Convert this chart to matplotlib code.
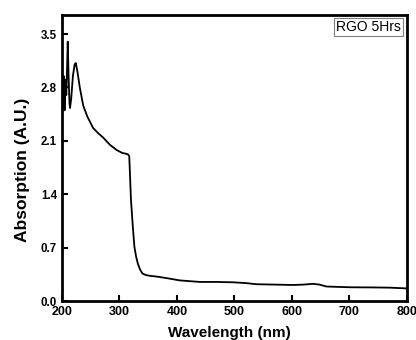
import matplotlib
matplotlib.use("Agg")
import matplotlib.pyplot as plt

wavelength = [200, 201.5, 203, 204.5, 206, 207.5, 209, 210, 211.5, 213, 214, 216, 219, 222, 224, 227,
              231, 237, 244, 254, 263, 272, 283, 295, 305, 312, 315, 317, 318, 320, 323, 326,
              329, 332, 336, 340, 346, 353, 365, 382, 405, 440, 470, 498, 520, 538, 570,
              602, 620, 637, 648, 660, 680, 701, 740, 770, 800]
absorption = [2.45, 2.75, 2.95, 2.5, 2.9, 2.7, 3.1, 3.40, 2.95, 2.6, 2.53, 2.65, 2.95, 3.1, 3.12, 3.0,
              2.8, 2.56, 2.42, 2.27, 2.2, 2.14, 2.05, 1.98, 1.94, 1.93, 1.92, 1.90, 1.72, 1.33, 1.0, 0.71,
              0.58, 0.49, 0.41, 0.36, 0.34, 0.33, 0.32, 0.30, 0.27, 0.25, 0.25, 0.245, 0.235, 0.22, 0.215,
              0.21, 0.215, 0.225, 0.215, 0.19, 0.185, 0.18, 0.178, 0.175, 0.165]

xticks = [200, 300, 400, 500, 600, 700, 800]
yticks = [0.0, 0.7, 1.4, 2.1, 2.8, 3.5]
legend_label = "RGO 5Hrs"

plt.rcParams['font.family'] = ['Liberation Sans', 'DejaVu Sans']

fig = plt.figure(figsize=(4.16, 3.40), dpi=100)
ax = fig.add_axes([0.149, 0.1147, 0.829, 0.8413])
ax.plot(wavelength, absorption, color='black', lw=1.3)

ax.set_xlim(200, 800)
ax.set_ylim(0, 3.75)
ax.set_xticks(xticks)
ax.set_yticks(yticks)
ax.set_yticklabels([f"{v:.1f}" for v in yticks])
ax.tick_params(direction='in', length=4, width=1.5)
ax.tick_params(axis='x', labelsize=9, pad=3.5)
ax.tick_params(axis='y', labelsize=8.3, pad=3.5)
for lab in ax.get_xticklabels() + ax.get_yticklabels():
    lab.set_fontweight('bold')
for s in ax.spines.values():
    s.set_linewidth(2.0)

ax.set_xlabel("Wavelength (nm)", fontsize=11, fontweight='bold')
ax.set_ylabel("Absorption (A.U.)", fontsize=12.5, fontweight='bold')
ax.xaxis.set_label_coords(0.4855, -0.087)
ax.yaxis.set_label_coords(-0.094, 0.46)

ax.text(0.983, 0.982, legend_label, transform=ax.transAxes, ha='right', va='top', fontsize=10,
        bbox=dict(boxstyle='square,pad=0.17', fc='white', ec='#808080', lw=0.8))

fig.savefig("out.png", dpi=100)
